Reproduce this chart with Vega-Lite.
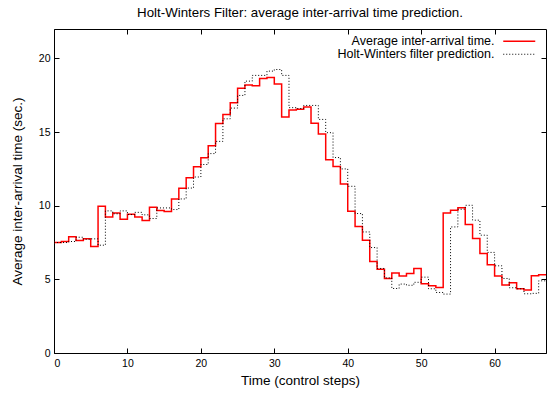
{
  "$schema": "https://vega.github.io/schema/vega-lite/v6.json",
  "width": 492,
  "height": 324,
  "autosize": {"type": "none"},
  "padding": {"left": 54, "top": 29, "right": 1, "bottom": 41},
  "background": "white",
  "config": {
    "font": "Liberation Sans",
    "view": {"stroke": null},
    "axis": {"grid": false, "domainColor": "black", "tickColor": "black", "labelColor": "black", "titleColor": "black", "labelFont": "Liberation Sans", "titleFont": "Liberation Sans", "labelFontSize": 10.5, "titleFontSize": 13.5, "titleFontWeight": "normal", "tickSize": -5, "labelPadding": 10},
    "title": {"font": "Liberation Sans", "fontSize": 13.3, "fontWeight": "normal", "color": "black"},
    "legend": {"labelFont": "Liberation Sans", "labelFontSize": 12.5, "labelColor": "black"}
  },
  "title": {"text": "Holt-Winters Filter: average inter-arrival time prediction.", "offset": 9},
  "data": {"values": [
    {"t":0,"v":7.5,"s":"Average inter-arrival time."},{"t":1,"v":7.57,"s":"Average inter-arrival time."},{"t":2,"v":7.9,"s":"Average inter-arrival time."},{"t":3,"v":7.64,"s":"Average inter-arrival time."},{"t":4,"v":7.75,"s":"Average inter-arrival time."},{"t":5,"v":7.23,"s":"Average inter-arrival time."},{"t":6,"v":9.97,"s":"Average inter-arrival time."},{"t":7,"v":9.24,"s":"Average inter-arrival time."},{"t":8,"v":9.51,"s":"Average inter-arrival time."},{"t":9,"v":9.08,"s":"Average inter-arrival time."},{"t":10,"v":9.42,"s":"Average inter-arrival time."},{"t":11,"v":9.24,"s":"Average inter-arrival time."},{"t":12,"v":9.0,"s":"Average inter-arrival time."},{"t":13,"v":9.9,"s":"Average inter-arrival time."},{"t":14,"v":9.68,"s":"Average inter-arrival time."},{"t":15,"v":9.6,"s":"Average inter-arrival time."},{"t":16,"v":10.46,"s":"Average inter-arrival time."},{"t":17,"v":11.18,"s":"Average inter-arrival time."},{"t":18,"v":11.9,"s":"Average inter-arrival time."},{"t":19,"v":12.65,"s":"Average inter-arrival time."},{"t":20,"v":13.25,"s":"Average inter-arrival time."},{"t":21,"v":14.08,"s":"Average inter-arrival time."},{"t":22,"v":15.58,"s":"Average inter-arrival time."},{"t":23,"v":16.2,"s":"Average inter-arrival time."},{"t":24,"v":17.0,"s":"Average inter-arrival time."},{"t":25,"v":17.97,"s":"Average inter-arrival time."},{"t":26,"v":18.2,"s":"Average inter-arrival time."},{"t":27,"v":18.15,"s":"Average inter-arrival time."},{"t":28,"v":18.64,"s":"Average inter-arrival time."},{"t":29,"v":18.71,"s":"Average inter-arrival time."},{"t":30,"v":18.26,"s":"Average inter-arrival time."},{"t":31,"v":16.02,"s":"Average inter-arrival time."},{"t":32,"v":16.5,"s":"Average inter-arrival time."},{"t":33,"v":16.55,"s":"Average inter-arrival time."},{"t":34,"v":16.7,"s":"Average inter-arrival time."},{"t":35,"v":15.6,"s":"Average inter-arrival time."},{"t":36,"v":14.87,"s":"Average inter-arrival time."},{"t":37,"v":13.13,"s":"Average inter-arrival time."},{"t":38,"v":12.66,"s":"Average inter-arrival time."},{"t":39,"v":11.48,"s":"Average inter-arrival time."},{"t":40,"v":9.63,"s":"Average inter-arrival time."},{"t":41,"v":8.59,"s":"Average inter-arrival time."},{"t":42,"v":7.66,"s":"Average inter-arrival time."},{"t":43,"v":6.22,"s":"Average inter-arrival time."},{"t":44,"v":5.69,"s":"Average inter-arrival time."},{"t":45,"v":5.06,"s":"Average inter-arrival time."},{"t":46,"v":5.44,"s":"Average inter-arrival time."},{"t":47,"v":5.22,"s":"Average inter-arrival time."},{"t":48,"v":5.4,"s":"Average inter-arrival time."},{"t":49,"v":5.74,"s":"Average inter-arrival time."},{"t":50,"v":4.7,"s":"Average inter-arrival time."},{"t":51,"v":4.56,"s":"Average inter-arrival time."},{"t":52,"v":4.45,"s":"Average inter-arrival time."},{"t":53,"v":9.51,"s":"Average inter-arrival time."},{"t":54,"v":9.69,"s":"Average inter-arrival time."},{"t":55,"v":9.87,"s":"Average inter-arrival time."},{"t":56,"v":8.72,"s":"Average inter-arrival time."},{"t":57,"v":7.77,"s":"Average inter-arrival time."},{"t":58,"v":6.76,"s":"Average inter-arrival time."},{"t":59,"v":5.99,"s":"Average inter-arrival time."},{"t":60,"v":5.22,"s":"Average inter-arrival time."},{"t":61,"v":4.61,"s":"Average inter-arrival time."},{"t":62,"v":4.77,"s":"Average inter-arrival time."},{"t":63,"v":4.36,"s":"Average inter-arrival time."},{"t":64,"v":4.27,"s":"Average inter-arrival time."},{"t":65,"v":5.24,"s":"Average inter-arrival time."},{"t":66,"v":5.31,"s":"Average inter-arrival time."},{"t":67,"v":5.31,"s":"Average inter-arrival time."},
    {"t":0,"v":7.5,"s":"Holt-Winters filter prediction."},{"t":1,"v":7.5,"s":"Holt-Winters filter prediction."},{"t":2,"v":7.57,"s":"Holt-Winters filter prediction."},{"t":3,"v":7.86,"s":"Holt-Winters filter prediction."},{"t":4,"v":7.72,"s":"Holt-Winters filter prediction."},{"t":5,"v":7.75,"s":"Holt-Winters filter prediction."},{"t":6,"v":7.32,"s":"Holt-Winters filter prediction."},{"t":7,"v":9.65,"s":"Holt-Winters filter prediction."},{"t":8,"v":9.45,"s":"Holt-Winters filter prediction."},{"t":9,"v":9.65,"s":"Holt-Winters filter prediction."},{"t":10,"v":9.4,"s":"Holt-Winters filter prediction."},{"t":11,"v":9.55,"s":"Holt-Winters filter prediction."},{"t":12,"v":9.38,"s":"Holt-Winters filter prediction."},{"t":13,"v":9.13,"s":"Holt-Winters filter prediction."},{"t":14,"v":9.85,"s":"Holt-Winters filter prediction."},{"t":15,"v":9.85,"s":"Holt-Winters filter prediction."},{"t":16,"v":9.74,"s":"Holt-Winters filter prediction."},{"t":17,"v":10.46,"s":"Holt-Winters filter prediction."},{"t":18,"v":11.2,"s":"Holt-Winters filter prediction."},{"t":19,"v":11.95,"s":"Holt-Winters filter prediction."},{"t":20,"v":12.8,"s":"Holt-Winters filter prediction."},{"t":21,"v":13.54,"s":"Holt-Winters filter prediction."},{"t":22,"v":14.37,"s":"Holt-Winters filter prediction."},{"t":23,"v":15.9,"s":"Holt-Winters filter prediction."},{"t":24,"v":16.63,"s":"Holt-Winters filter prediction."},{"t":25,"v":17.49,"s":"Holt-Winters filter prediction."},{"t":26,"v":18.46,"s":"Holt-Winters filter prediction."},{"t":27,"v":18.85,"s":"Holt-Winters filter prediction."},{"t":28,"v":18.85,"s":"Holt-Winters filter prediction."},{"t":29,"v":19.14,"s":"Holt-Winters filter prediction."},{"t":30,"v":19.25,"s":"Holt-Winters filter prediction."},{"t":31,"v":18.85,"s":"Holt-Winters filter prediction."},{"t":32,"v":16.66,"s":"Holt-Winters filter prediction."},{"t":33,"v":16.6,"s":"Holt-Winters filter prediction."},{"t":34,"v":16.81,"s":"Holt-Winters filter prediction."},{"t":35,"v":16.81,"s":"Holt-Winters filter prediction."},{"t":36,"v":15.86,"s":"Holt-Winters filter prediction."},{"t":37,"v":14.96,"s":"Holt-Winters filter prediction."},{"t":38,"v":13.27,"s":"Holt-Winters filter prediction."},{"t":39,"v":12.5,"s":"Holt-Winters filter prediction."},{"t":40,"v":11.32,"s":"Holt-Winters filter prediction."},{"t":41,"v":9.47,"s":"Holt-Winters filter prediction."},{"t":42,"v":8.22,"s":"Holt-Winters filter prediction."},{"t":43,"v":7.16,"s":"Holt-Winters filter prediction."},{"t":44,"v":5.74,"s":"Holt-Winters filter prediction."},{"t":45,"v":5.1,"s":"Holt-Winters filter prediction."},{"t":46,"v":4.38,"s":"Holt-Winters filter prediction."},{"t":47,"v":4.68,"s":"Holt-Winters filter prediction."},{"t":48,"v":4.6,"s":"Holt-Winters filter prediction."},{"t":49,"v":4.8,"s":"Holt-Winters filter prediction."},{"t":50,"v":5.15,"s":"Holt-Winters filter prediction."},{"t":51,"v":4.36,"s":"Holt-Winters filter prediction."},{"t":52,"v":4.11,"s":"Holt-Winters filter prediction."},{"t":53,"v":4.0,"s":"Holt-Winters filter prediction."},{"t":54,"v":8.56,"s":"Holt-Winters filter prediction."},{"t":55,"v":9.76,"s":"Holt-Winters filter prediction."},{"t":56,"v":10.03,"s":"Holt-Winters filter prediction."},{"t":57,"v":9.02,"s":"Holt-Winters filter prediction."},{"t":58,"v":8.0,"s":"Holt-Winters filter prediction."},{"t":59,"v":6.83,"s":"Holt-Winters filter prediction."},{"t":60,"v":5.92,"s":"Holt-Winters filter prediction."},{"t":61,"v":5.06,"s":"Holt-Winters filter prediction."},{"t":62,"v":4.43,"s":"Holt-Winters filter prediction."},{"t":63,"v":4.36,"s":"Holt-Winters filter prediction."},{"t":64,"v":4.02,"s":"Holt-Winters filter prediction."},{"t":65,"v":4.05,"s":"Holt-Winters filter prediction."},{"t":66,"v":4.9,"s":"Holt-Winters filter prediction."},{"t":67,"v":4.9,"s":"Holt-Winters filter prediction."}
  ]},
  "layer": [
    {
      "mark": {"type": "line", "interpolate": "step-after", "clip": true},
      "encoding": {
        "x": {"field": "t", "type": "quantitative", "scale": {"domain": [0, 67], "nice": false, "zero": false}, "axis": {"title": "Time (control steps)", "values": [0, 10, 20, 30, 40, 50, 60], "titlePadding": 5}},
        "y": {"field": "v", "type": "quantitative", "scale": {"domain": [0, 22], "nice": false}, "axis": {"title": "Average inter-arrival time (sec.)", "values": [0, 5, 10, 15, 20], "titlePadding": 14, "labelPadding": 9}},
        "color": {"field": "s", "type": "nominal", "scale": {"domain": ["Average inter-arrival time.", "Holt-Winters filter prediction."], "range": ["#ff0000", "#000000"]}, "legend": {"title": null, "orient": "none", "legendX": 459, "legendY": 6, "symbolType": "M-3.2,0H3.2", "symbolSize": 100, "symbolStrokeWidth": 1.5, "labelAlign": "right", "labelOffset": -31, "rowPadding": 0}},
        "strokeDash": {"field": "s", "type": "nominal", "scale": {"domain": ["Average inter-arrival time.", "Holt-Winters filter prediction."], "range": [[1, 0], [1, 2]]}, "legend": {"title": null, "orient": "none", "legendX": 459, "legendY": 6, "symbolType": "M-3.2,0H3.2", "symbolSize": 100, "symbolStrokeWidth": 1.5, "labelAlign": "right", "labelOffset": -31, "rowPadding": 0}},
        "strokeWidth": {"field": "s", "type": "nominal", "scale": {"domain": ["Average inter-arrival time.", "Holt-Winters filter prediction."], "range": [1.5, 1]}, "legend": null}
      }
    },
    {
      "mark": {"type": "line", "opacity": 0},
      "encoding": {
        "x": {"field": "t", "type": "quantitative", "axis": {"orient": "top", "title": null, "labels": false, "values": [0, 10, 20, 30, 40, 50, 60]}},
        "y": {"field": "v", "type": "quantitative", "axis": {"orient": "right", "title": null, "labels": false, "values": [0, 5, 10, 15, 20]}}
      }
    }
  ],
  "resolve": {"axis": {"x": "independent", "y": "independent"}}
}
